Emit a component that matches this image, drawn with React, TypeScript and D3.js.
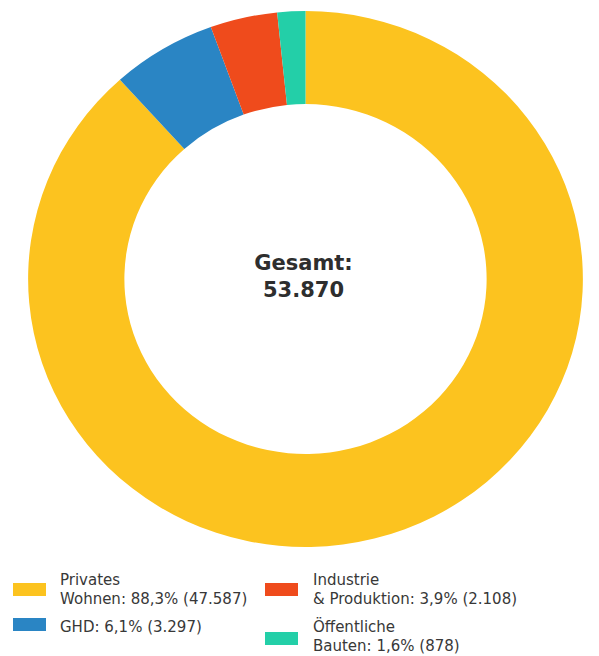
import React, { useEffect, useRef } from "react";
import * as d3 from "d3";

const categories = ["Privates Wohnen", "GHD", "Industrie & Produktion", "Öffentliche Bauten"];
const values = [47587, 3297, 2108, 878];
const colors = ["#FCC31F", "#2A85C4", "#EF4B1C", "#23CFA8"];
const legendLines = [
    ["Privates", "Wohnen: 88,3% (47.587)"],
    ["GHD: 6,1% (3.297)"],
    ["Industrie", "& Produktion: 3,9% (2.108)"],
    ["Öffentliche", "Bauten: 1,6% (878)"],
];
const centerLabel = "Gesamt:";
const totalLabel = "53.870";

const FONT = "'DejaVu Sans', sans-serif";

const App = () => {
    const svgRef = useRef(null);

    useEffect(() => {
        const svg = d3.select(svgRef.current);
        svg.selectAll("*").remove();

        const cx = 305.5;
        const cy = 279;
        const outer = 268;
        const inner = 175;

        const data = categories.map((c, i) => ({ label: c, value: values[i], color: colors[i] }));

        const pie = d3
            .pie<any>()
            .value((d) => d.value)
            .sort(null)
            .startAngle(0)
            .endAngle(2 * Math.PI);

        const arc = d3.arc<any>().innerRadius(inner).outerRadius(outer);

        const g = svg.append("g").attr("transform", `translate(${cx},${cy}) scale(1.035,1)`);

        g.selectAll("path")
            .data(pie(data))
            .enter()
            .append("path")
            .attr("d", arc)
            .attr("fill", (d) => d.data.color);

        [centerLabel, totalLabel].forEach((txt, i) => {
            svg.append("text")
                .attr("x", cx - 2)
                .attr("y", 270 + i * 27)
                .attr("text-anchor", "middle")
                .attr("font-family", FONT)
                .attr("font-weight", 700)
                .attr("font-size", 21)
                .attr("fill", "#2e2e2e")
                .text(txt);
        });

        // legend: two columns
        const legendPos = [
            { sx: 13, sy: 583, tx: 60, ty: 585 },
            { sx: 13, sy: 618, tx: 60, ty: 632 },
            { sx: 265, sy: 583, tx: 313, ty: 585 },
            { sx: 265, sy: 632, tx: 313, ty: 632 },
        ];

        const legend = svg
            .selectAll(".legend")
            .data(data)
            .enter()
            .append("g")
            .attr("class", "legend");

        legend
            .append("rect")
            .attr("x", (_d, i) => legendPos[i].sx)
            .attr("y", (_d, i) => legendPos[i].sy)
            .attr("width", 33)
            .attr("height", 13)
            .attr("fill", (d) => d.color);

        legend
            .append("text")
            .attr("font-family", FONT)
            .attr("font-size", 15)
            .attr("fill", "#383838")
            .each(function (_d, i) {
                const t = d3.select(this);
                legendLines[i].forEach((line, j) => {
                    t.append("tspan")
                        .attr("x", legendPos[i].tx)
                        .attr("y", legendPos[i].ty + j * 18.5)
                        .text(line);
                });
            });
    }, []);

    return (
        <div style={{ position: "absolute", left: 0, top: 0 }}>
            <svg ref={svgRef} width={599} height={656} style={{ display: "block", background: "#fff" }}></svg>
        </div>
    );
};

export default App;
